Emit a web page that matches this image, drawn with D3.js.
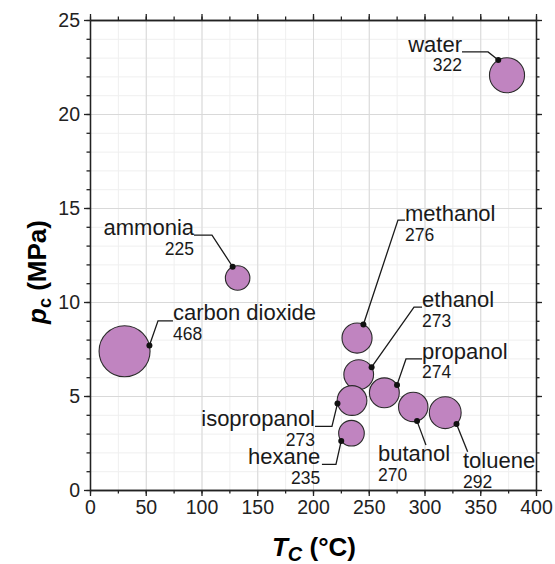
<!DOCTYPE html>
<html>
<head>
<meta charset="utf-8">
<script src="https://cdn.jsdelivr.net/npm/d3@7"></script>
<style>
  body { margin: 0; background: #fff; }
  svg { font-family: "Liberation Sans", Arial, sans-serif; }
  .grid line { stroke: #d9d9d9; stroke-width: 1; }
  .grid.minor line { stroke: #efefef; }
  .grid path { display: none; }
  .axis path, .axis line { stroke: #222; stroke-width: 1.3; }
  .axis text { font-size: 19.5px; fill: #222; }
  .bubble { fill: #c084c0; stroke: #2a2a2a; stroke-width: 1.1; }
  .leader { fill: none; stroke: #1a1a1a; stroke-width: 1.3; }
  .name { font-size: 22px; fill: #1a1a1a; }
  .size { font-size: 17.5px; fill: #1a1a1a; }
</style>
</head>
<body>
<div id="chart"></div>
<script>

// critical temperature (°C), critical pressure (MPa), bubble value
var compounds = ["water", "ammonia", "carbon dioxide", "methanol", "ethanol",
                 "propanol", "isopropanol", "hexane", "butanol", "toluene"];
var tc = [374, 132.4, 31, 239.5, 241, 264, 235, 234.5, 289.9, 318.6];
var pc = [22.06, 11.28, 7.38, 8.08, 6.14, 5.17, 4.76, 3.02, 4.42, 4.11];
var sizes = [322, 225, 468, 276, 273, 274, 273, 235, 270, 292];

var xTicks = [0, 50, 100, 150, 200, 250, 300, 350, 400];
var yTicks = [0, 5, 10, 15, 20, 25];

// where each label sits (data units), and the bend of its leader line
var labelLayout = {
  "water":          { at: [333.6, 23.3],  anchor: "end",   bend: [[333.6, 23.3], [357, 23.3]],   angle: -120 },
  "ammonia":        { at: [93.3, 13.56],  anchor: "end",   bend: [[93.3, 13.56], [109.4, 13.56]], angle: -114 },
  "carbon dioxide": { at: [74.4, 9.04],   anchor: "start", bend: [[74.4, 9.0], [61, 9.0]],       angle: -13 },
  "methanol":       { at: [282.5, 14.3],  anchor: "start", bend: [[282.5, 14.36], [276.2, 14.36]], angle: -65 },
  "ethanol":        { at: [297.8, 9.73],  anchor: "start", bend: [[297.8, 9.73], [290.6, 9.73]], angle: -30 },
  "propanol":       { at: [297.8, 6.97],  anchor: "start", bend: [[297.8, 6.97], [283.4, 6.97]], angle: -32 },
  "isopropanol":    { at: [201.8, 3.38],  anchor: "end",   bend: [[201.8, 3.38], [217, 3.38]],   angle: 168 },
  "hexane":         { at: [206.5, 1.36],  anchor: "end",   bend: [[208, 1.36], [220.6, 1.36]],   angle: 143 },
  "butanol":        { at: [258.3, 1.54],  anchor: "start", bend: [[301.3, 2.39]],                angle: 75 },
  "toluene":        { at: [334.5, 1.17],  anchor: "start", bend: [[338.7, 2.04]],                angle: 45 }
};

var margin = { left: 90, right: 19, top: 20, bottom: 74 };

var data = compounds.map(function (c, i) {
  return { name: c, tc: tc[i], pc: pc[i], size: sizes[i] };
});

var chart = {};
chart.width = 555 - margin.left - margin.right;
chart.height = 564 - margin.top - margin.bottom;

var svg = d3.select("#chart")
  .append("svg")
  .attr("width", 555)
  .attr("height", 564);

chart.svg = svg.append("g")
  .attr("transform", "translate(" + margin.left + "," + margin.top + ")");

chart.xScale = d3.scaleLinear().domain([0, 400]).range([0, chart.width]);
chart.yScale = d3.scaleLinear().domain([0, 25]).range([chart.height, 0]);
chart.rScale = d3.scaleLinear().domain([0, 468]).range([0, 25.5]);

var xMinor = d3.range(0, 401, 25);
var yMinor = d3.range(0, 25.01, 1);

// grid
chart.svg.append("g").attr("class", "grid minor")
  .attr("transform", "translate(0," + chart.height + ")")
  .call(d3.axisBottom(chart.xScale).tickValues(xMinor).tickSize(-chart.height).tickFormat(""));
chart.svg.append("g").attr("class", "grid minor")
  .call(d3.axisLeft(chart.yScale).tickValues(yMinor).tickSize(-chart.width).tickFormat(""));
chart.svg.append("g").attr("class", "grid")
  .attr("transform", "translate(0," + chart.height + ")")
  .call(d3.axisBottom(chart.xScale).tickValues(xTicks).tickSize(-chart.height).tickFormat(""));
chart.svg.append("g").attr("class", "grid")
  .call(d3.axisLeft(chart.yScale).tickValues(yTicks).tickSize(-chart.width).tickFormat(""));

// axes on all four sides, labels on bottom and left
function frame(axisFn, ticks, size, transform, labelled) {
  var a = axisFn.tickValues(ticks).tickSize(size).tickSizeOuter(0).tickPadding(4);
  if (!labelled) a.tickFormat("");
  var g = chart.svg.append("g").attr("class", "axis");
  if (transform) g.attr("transform", transform);
  g.call(a);
  return g;
}
frame(d3.axisBottom(chart.xScale), xMinor, 3.5, "translate(0," + chart.height + ")", false);
frame(d3.axisTop(chart.xScale), xMinor, 3.5, null, false);
frame(d3.axisLeft(chart.yScale), yMinor, 3.5, null, false);
frame(d3.axisRight(chart.yScale), yMinor, 3.5, "translate(" + chart.width + ",0)", false);
frame(d3.axisBottom(chart.xScale), xTicks, 6, "translate(0," + chart.height + ")", true);
frame(d3.axisTop(chart.xScale), xTicks, 6, null, false);
frame(d3.axisLeft(chart.yScale), yTicks, 6, null, true);
frame(d3.axisRight(chart.yScale), yTicks, 6, "translate(" + chart.width + ",0)", false);

// bubbles
chart.svg.selectAll(".bubble")
  .data(data).enter()
  .append("circle")
  .attr("class", "bubble")
  .attr("cx", function (d) { return chart.xScale(d.tc); })
  .attr("cy", function (d) { return chart.yScale(d.pc); })
  .attr("r", function (d) { return chart.rScale(d.size); });

// leaders and labels
function dotPoint(d) {
  var a = labelLayout[d.name].angle * Math.PI / 180;
  var r = chart.rScale(d.size);
  return [chart.xScale(d.tc) + r * Math.cos(a), chart.yScale(d.pc) + r * Math.sin(a)];
}

var line = d3.line();

var labels = chart.svg.selectAll(".label")
  .data(data).enter()
  .append("g")
  .attr("class", "label");

labels.append("path")
  .attr("class", "leader")
  .attr("d", function (d) {
    var pts = labelLayout[d.name].bend.map(function (p) {
      return [chart.xScale(p[0]), chart.yScale(p[1])];
    });
    pts.push(dotPoint(d));
    return line(pts);
  });

labels.append("circle")
  .attr("r", 3)
  .attr("fill", "#111")
  .attr("cx", function (d) { return dotPoint(d)[0]; })
  .attr("cy", function (d) { return dotPoint(d)[1]; });

labels.append("text")
  .attr("class", "name")
  .attr("x", function (d) { return chart.xScale(labelLayout[d.name].at[0]); })
  .attr("y", function (d) { return chart.yScale(labelLayout[d.name].at[1]); })
  .attr("text-anchor", function (d) { return labelLayout[d.name].anchor; })
  .text(function (d) { return d.name; });

labels.append("text")
  .attr("class", "size")
  .attr("x", function (d) { return chart.xScale(labelLayout[d.name].at[0]); })
  .attr("y", function (d) { return chart.yScale(labelLayout[d.name].at[1]) + 19.5; })
  .attr("text-anchor", function (d) { return labelLayout[d.name].anchor; })
  .text(function (d) { return d.size; });

// axis titles
svg.append("text")
  .attr("x", 314)
  .attr("y", 556)
  .attr("text-anchor", "middle")
  .style("font-size", "26px")
  .style("font-weight", "bold")
  .html('<tspan font-style="italic">T</tspan><tspan font-style="italic" font-size="20px" dy="5">C</tspan><tspan dy="-5"> (°C)</tspan>');

svg.append("text")
  .attr("transform", "translate(46,272) rotate(-90)")
  .attr("text-anchor", "middle")
  .style("font-size", "26px")
  .style("font-weight", "bold")
  .html('<tspan font-style="italic">p</tspan><tspan font-size="18px" dy="5">c</tspan><tspan dy="-5"> (MPa)</tspan>');

</script>
</body>
</html>
